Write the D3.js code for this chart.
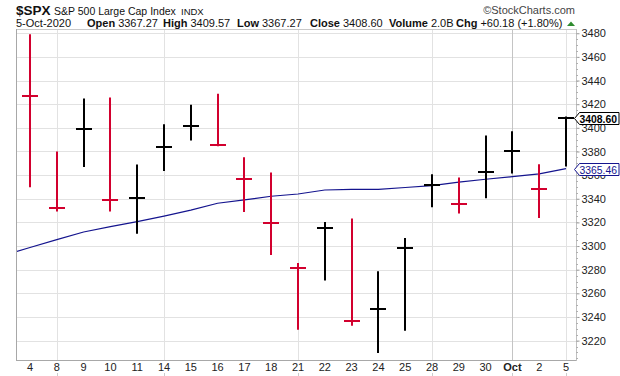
<!DOCTYPE html>
<html>
<head>
<meta charset="utf-8">
<script src="https://cdn.jsdelivr.net/npm/d3@7/dist/d3.min.js"></script>
<style>
  body { margin: 0; background: #fff; }
  svg { display: block; font-family: Arial, "Liberation Sans", sans-serif; }
</style>
</head>
<body>
<div id="chart"></div>
<script>
// daily bars, 4-Sep-2020 .. 5-Oct-2020
const dates = ["4", "8", "9", "10", "11", "14", "15", "16", "17", "18", "21", "22", "23", "24", "25", "28", "29", "30", "Oct", "2", "5"];
const highs = [3479.15, 3379.97, 3424.77, 3425.55, 3368.95, 3402.93, 3419.48, 3428.92, 3375.17, 3362.27, 3285.57, 3320.31, 3323.35, 3278.70, 3306.88, 3360.74, 3357.92, 3393.56, 3397.18, 3369.10, 3409.57];
const lows = [3349.63, 3329.27, 3366.84, 3329.25, 3310.47, 3363.56, 3389.25, 3384.45, 3328.82, 3292.40, 3229.10, 3270.95, 3232.57, 3209.45, 3228.44, 3332.91, 3327.54, 3340.47, 3361.39, 3323.69, 3367.27];
const closes = [3426.96, 3331.84, 3398.96, 3339.19, 3340.97, 3383.54, 3401.20, 3385.49, 3357.01, 3319.47, 3281.06, 3315.57, 3236.92, 3246.59, 3298.46, 3351.60, 3335.47, 3363.00, 3380.80, 3348.42, 3408.60];
const prevClose = 3455.06;
// 50-day moving average
const ma50 = [3298.8, 3305.4, 3311.9, 3316.4, 3320.6, 3325.3, 3330.4, 3336.2, 3339.0, 3342.1, 3344.0, 3347.4, 3348.0, 3348.0, 3349.5, 3351.1, 3354.0, 3356.5, 3358.7, 3361.0, 3365.46];
const prevMa = 3292.0;
const gridDays = ["8", "14", "21", "28", "5"];
const monthDay = "Oct";
const yTicks = [3220, 3240, 3260, 3280, 3300, 3320, 3340, 3360, 3380, 3400, 3420, 3440, 3460, 3480];

const width = 620, height = 376;
const plot = { left: 16, right: 576, top: 29, bottom: 360 };
const red = "#d2002e", navy = "#14148e";

const svg = d3.select("#chart").append("svg")
  .attr("width", width)
  .attr("height", height);

const x = d3.scalePoint()
  .domain(dates)
  .range([30, 566]);

const y = d3.scaleLinear()
  .domain([3203.6, 3483.6])
  .range([plot.bottom, plot.top]);

// grid
svg.append("g")
  .selectAll("line")
  .data(yTicks)
  .join("line")
  .attr("x1", plot.left).attr("x2", plot.right)
  .attr("y1", d => Math.round(y(d)) + 0.5)
  .attr("y2", d => Math.round(y(d)) + 0.5)
  .attr("stroke", "#e2e2e2");

svg.append("g")
  .selectAll("line")
  .data(gridDays.concat([monthDay]))
  .join("line")
  .attr("x1", d => Math.round(x(d)) + 0.5)
  .attr("x2", d => Math.round(x(d)) + 0.5)
  .attr("y1", plot.top).attr("y2", plot.bottom)
  .attr("stroke", d => d === monthDay ? "#c4c4c4" : "#e2e2e2");

// frame
svg.append("line")
  .attr("x1", plot.left).attr("x2", plot.right)
  .attr("y1", plot.top + 0.5).attr("y2", plot.top + 0.5)
  .attr("stroke", "#c8c8c8");
svg.append("line")
  .attr("x1", plot.left + 0.5).attr("x2", plot.left + 0.5)
  .attr("y1", plot.top).attr("y2", plot.bottom)
  .attr("stroke", "#a8a8a8");
svg.append("line")
  .attr("x1", plot.left).attr("x2", plot.right)
  .attr("y1", plot.bottom + 0.5).attr("y2", plot.bottom + 0.5)
  .attr("stroke", "#a8a8a8");
svg.append("line")
  .attr("x1", plot.right + 0.5).attr("x2", plot.right + 0.5)
  .attr("y1", plot.top).attr("y2", plot.bottom + 1)
  .attr("stroke", "#c0c0c0");

// right axis
const yAxis = d3.axisRight(y)
  .tickValues(yTicks)
  .tickSize(3)
  .tickPadding(2)
  .tickFormat(d3.format("d"));

const yAxisGroup = svg.append("g")
  .attr("transform", `translate(${plot.right + 0.5},0)`)
  .call(yAxis);
yAxisGroup.select(".domain").remove();
yAxisGroup.selectAll("line").attr("stroke", "#999");
yAxisGroup.selectAll("text")
  .attr("font-size", 11)
  .attr("fill", "#222");

// minor ticks on the right axis
svg.append("g")
  .selectAll("line")
  .data(y.ticks(56))
  .join("line")
  .attr("x1", plot.right).attr("x2", plot.right + 2)
  .attr("y1", d => Math.round(y(d)) + 0.5)
  .attr("y2", d => Math.round(y(d)) + 0.5)
  .attr("stroke", "#b0b0b0");

// bottom labels
svg.append("g")
  .selectAll("text")
  .data(dates)
  .join("text")
  .attr("x", d => x(d))
  .attr("y", 371)
  .attr("text-anchor", "middle")
  .attr("font-size", 11)
  .attr("font-weight", d => d === monthDay ? "bold" : "normal")
  .attr("fill", "#222")
  .text(d => d);

svg.append("g")
  .selectAll("line")
  .data(gridDays.concat([monthDay]))
  .join("line")
  .attr("x1", d => Math.round(x(d)) + 0.5)
  .attr("x2", d => Math.round(x(d)) + 0.5)
  .attr("y1", 373).attr("y2", 376)
  .attr("stroke", "#ccc");

// moving average
svg.append("clipPath")
  .attr("id", "plot-clip")
  .append("rect")
  .attr("x", plot.left + 1).attr("y", plot.top)
  .attr("width", plot.right - plot.left - 1)
  .attr("height", plot.bottom - plot.top);

const maPoints = [[x(dates[0]) - x.step(), prevMa]]
  .concat(dates.map((d, i) => [x(d), ma50[i]]));

svg.append("path")
  .datum(maPoints)
  .attr("clip-path", "url(#plot-clip)")
  .attr("fill", "none")
  .attr("stroke", navy)
  .attr("stroke-width", 1.2)
  .attr("d", d3.line().x(d => d[0]).y(d => y(d[1])));

// HLC bars
const bars = dates.map((d, i) => ({
  day: d,
  high: highs[i],
  low: lows[i],
  close: closes[i],
  down: closes[i] < (i === 0 ? prevClose : closes[i - 1])
}));

const barGroup = svg.append("g");
barGroup.selectAll(".hl")
  .data(bars)
  .join("line")
  .attr("class", "hl")
  .attr("x1", d => Math.round(x(d.day)))
  .attr("x2", d => Math.round(x(d.day)))
  .attr("y1", d => y(d.high))
  .attr("y2", d => y(d.low))
  .attr("stroke", d => d.down ? red : "#000")
  .attr("stroke-width", 2);

barGroup.selectAll(".cl")
  .data(bars)
  .join("line")
  .attr("class", "cl")
  .attr("x1", d => Math.round(x(d.day)) - 8)
  .attr("x2", d => Math.round(x(d.day)) + 8)
  .attr("y1", d => Math.round(y(d.close)))
  .attr("y2", d => Math.round(y(d.close)))
  .attr("stroke", d => d.down ? red : "#000")
  .attr("stroke-width", 2);

// value flags on the right
function flag(value, color, bold) {
  const yc = Math.round(y(value)) + 0.5;
  const tip = plot.right - 1.5, w = 619;
  const g = svg.append("g");
  g.append("path")
    .attr("d", `M${tip},${yc} L${tip + 5},${yc - 6} L${w},${yc - 6} L${w},${yc + 6} L${tip + 5},${yc + 6} Z`)
    .attr("fill", "#fff")
    .attr("stroke", color)
    .attr("stroke-width", 1);
  g.append("text")
    .attr("x", tip + 5)
    .attr("y", yc + 4)
    .attr("font-size", 11)
    .attr("font-weight", bold ? "bold" : "normal")
    .attr("textLength", w - tip - 7)
    .attr("lengthAdjust", "spacingAndGlyphs")
    .attr("fill", color)
    .text(d3.format(".2f")(value));
}
flag(ma50[ma50.length - 1], navy, false);
flag(closes[closes.length - 1], "#000", true);

// header
const header = svg.append("g").attr("fill", "#111");
header.append("text")
  .attr("x", 16).attr("y", 15)
  .attr("font-size", 13.5).attr("font-weight", "bold")
  .text("$SPX");
header.append("text")
  .attr("x", 54).attr("y", 15)
  .attr("font-size", 10.5)
  .text("S&P 500 Large Cap Index");
header.append("text")
  .attr("x", 181).attr("y", 15)
  .attr("font-size", 9.5)
  .text("INDX");
header.append("text")
  .attr("x", 575).attr("y", 14)
  .attr("text-anchor", "end")
  .attr("font-size", 11)
  .attr("fill", "#444")
  .text("\u00a9StockCharts.com");

header.append("text")
  .attr("x", 16).attr("y", 27)
  .attr("font-size", 11)
  .text("5-Oct-2020");

const quote = [
  ["Open", "3367.27", 87],
  ["High", "3409.57", 163],
  ["Low", "3367.27", 237],
  ["Close", "3408.60", 310],
  ["Volume", "2.0B", 389],
  ["Chg", "+60.18 (+1.80%)", 456]
];
quote.forEach(q => {
  const lab = header.append("text")
    .attr("x", q[2]).attr("y", 27)
    .attr("font-size", 11).attr("font-weight", "bold")
    .text(q[0]);
  const w = lab.node().getComputedTextLength();
  header.append("text")
    .attr("x", q[2] + w + 3).attr("y", 27)
    .attr("font-size", 11)
    .text(q[1]);
});
header.append("path")
  .attr("d", "M567,26 L571,21.5 L575,26 Z")
  .attr("fill", "#2e8b2e");
</script>
</body>
</html>
